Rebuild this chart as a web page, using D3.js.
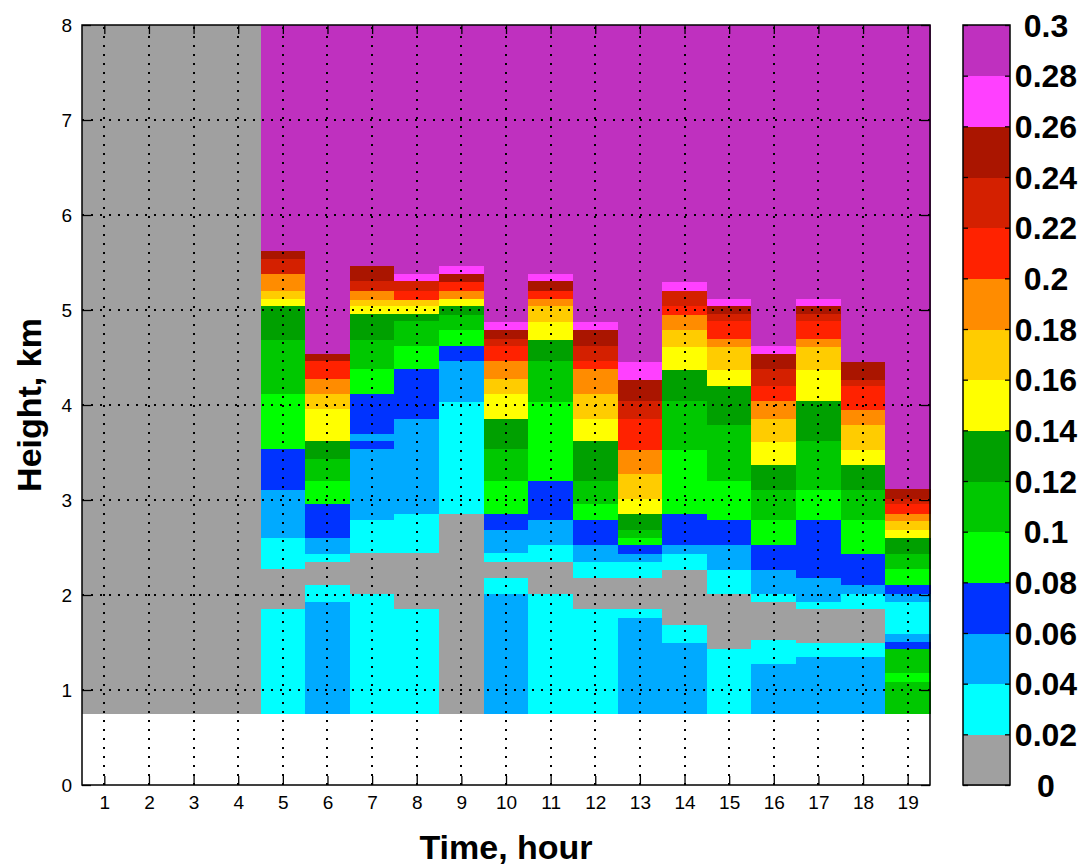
<!DOCTYPE html>
<html><head><meta charset="utf-8">
<script src="https://cdn.jsdelivr.net/npm/d3@7"></script>
<style>body{margin:0;background:#fff} svg{display:block}</style>
</head><body><svg id="c" width="1086" height="865"></svg>
<script>
// ---- data ----
const hours = [1,2,3,4,5,6,7,8,9,10,11,12,13,14,15,16,17,18,19];
const heightTicks = [0,1,2,3,4,5,6,7,8];
const levelLabels = ["0","0.02","0.04","0.06","0.08","0.1","0.12","0.14","0.16","0.18","0.2","0.22","0.24","0.26","0.28","0.3"];
const levelColors = ["#a0a0a0","#00ffff","#00aaff","#0033ff","#00ff00","#00c800","#00a000","#ffff00","#ffcc00","#ff8c00","#ff2200","#d42000","#aa1500","#ff40ff","#bf30bf"];
const dataBase = 0.75; // lowest height with data, km
// each profile: [top of layer (km), value] from bottom upward
const hour01 = [[8,0.01]];
const hour02 = [[8,0.01]];
const hour03 = [[8,0.01]];
const hour04 = [[8,0.01]];
const hour05 = [[1.86,0.03],[2.28,0.01],[2.61,0.03],[3.11,0.05],[3.54,0.07],[4.12,0.09],[4.69,0.11],[5.05,0.13],[5.12,0.15],[5.21,0.17],[5.38,0.19],[5.54,0.23],[5.63,0.25],[8,0.29]];
const hour06 = [[1.93,0.05],[2.11,0.03],[2.35,0.01],[2.44,0.03],[2.61,0.05],[2.96,0.07],[3.21,0.09],[3.44,0.11],[3.63,0.13],[3.96,0.15],[4.12,0.17],[4.28,0.19],[4.47,0.21],[4.54,0.25],[8,0.29]];
const hour07 = [[2.02,0.03],[2.45,0.01],[2.79,0.03],[3.54,0.05],[3.63,0.07],[3.70,0.05],[4.12,0.07],[4.38,0.09],[4.69,0.11],[4.96,0.13],[5.05,0.15],[5.11,0.17],[5.21,0.19],[5.31,0.23],[5.47,0.25],[8,0.29]];
const hour08 = [[1.86,0.03],[2.45,0.01],[2.86,0.03],[3.86,0.05],[4.38,0.07],[4.63,0.09],[4.89,0.11],[4.96,0.13],[5.05,0.15],[5.11,0.17],[5.21,0.21],[5.31,0.23],[5.38,0.27],[8,0.29]];
const hour09 = [[2.86,0.01],[4.04,0.03],[4.47,0.05],[4.63,0.07],[4.80,0.09],[4.95,0.11],[5.05,0.13],[5.12,0.15],[5.21,0.19],[5.30,0.21],[5.38,0.25],[5.47,0.27],[8,0.29]];
const hour10 = [[2.02,0.05],[2.18,0.03],[2.35,0.01],[2.45,0.03],[2.69,0.05],[2.86,0.07],[3.21,0.09],[3.54,0.11],[3.86,0.13],[4.12,0.15],[4.28,0.17],[4.47,0.19],[4.63,0.21],[4.70,0.23],[4.80,0.25],[4.88,0.27],[8,0.29]];
const hour11 = [[2.02,0.03],[2.35,0.01],[2.53,0.03],[2.79,0.05],[3.21,0.07],[4.04,0.09],[4.47,0.11],[4.69,0.13],[4.88,0.15],[5.05,0.17],[5.12,0.19],[5.21,0.21],[5.31,0.25],[5.38,0.27],[8,0.29]];
const hour12 = [[1.86,0.03],[2.18,0.01],[2.35,0.03],[2.53,0.05],[2.79,0.07],[2.96,0.09],[3.21,0.11],[3.63,0.13],[3.86,0.15],[4.12,0.17],[4.38,0.19],[4.47,0.21],[4.63,0.23],[4.80,0.25],[4.88,0.27],[8,0.29]];
const hour13 = [[1.76,0.05],[1.86,0.03],[2.18,0.01],[2.35,0.03],[2.44,0.05],[2.53,0.07],[2.61,0.09],[2.69,0.11],[2.86,0.13],[3.02,0.15],[3.28,0.17],[3.53,0.19],[3.86,0.21],[4.05,0.23],[4.27,0.25],[4.46,0.27],[8,0.29]];
const hour14 = [[1.50,0.05],[1.69,0.03],[2.27,0.01],[2.44,0.03],[2.53,0.05],[2.86,0.07],[3.53,0.09],[4.05,0.11],[4.37,0.13],[4.62,0.15],[4.80,0.17],[4.95,0.19],[5.05,0.21],[5.21,0.23],[5.30,0.27],[8,0.29]];
const hour15 = [[1.44,0.03],[2.02,0.01],[2.27,0.03],[2.53,0.05],[2.79,0.07],[3.21,0.09],[3.80,0.11],[4.21,0.13],[4.37,0.15],[4.62,0.17],[4.70,0.19],[4.89,0.21],[4.96,0.23],[5.05,0.25],[5.12,0.27],[8,0.29]];
const hour16 = [[1.28,0.05],[1.53,0.03],[1.93,0.01],[2.02,0.03],[2.27,0.05],[2.53,0.07],[2.79,0.09],[3.11,0.11],[3.37,0.13],[3.62,0.15],[3.86,0.17],[4.05,0.19],[4.21,0.21],[4.38,0.23],[4.54,0.25],[4.63,0.27],[8,0.29]];
const hour17 = [[1.35,0.05],[1.50,0.03],[1.86,0.01],[1.93,0.03],[2.18,0.05],[2.79,0.07],[3.11,0.09],[3.63,0.11],[4.05,0.13],[4.37,0.15],[4.62,0.17],[4.70,0.19],[4.89,0.21],[4.96,0.23],[5.05,0.25],[5.12,0.27],[8,0.29]];
const hour18 = [[1.35,0.05],[1.50,0.03],[1.86,0.01],[2.02,0.03],[2.11,0.05],[2.44,0.07],[2.79,0.09],[3.11,0.11],[3.37,0.13],[3.53,0.15],[3.79,0.17],[3.95,0.19],[4.21,0.21],[4.27,0.23],[4.46,0.25],[8,0.29]];
const hour19 = [[1.09,0.11],[1.18,0.09],[1.44,0.11],[1.51,0.07],[1.60,0.05],[1.93,0.03],[2.02,0.05],[2.11,0.07],[2.28,0.09],[2.44,0.11],[2.61,0.13],[2.69,0.15],[2.78,0.17],[2.86,0.19],[2.96,0.21],[3.02,0.23],[3.12,0.25],[8,0.29]];
const profiles = [hour01,hour02,hour03,hour04,hour05,hour06,hour07,hour08,hour09,hour10,hour11,hour12,hour13,hour14,hour15,hour16,hour17,hour18,hour19];

// ---- drawing ----
const svg = d3.select("#c");
const L = 82, R = 930, T = 25, B = 785;
const x = d3.scaleLinear().domain([0.5, 19.5]).range([L, R]);
const y = d3.scaleLinear().domain([0, 8]).range([B, T]);
const levelEdges = levelLabels.map(Number);
const color = d3.scaleThreshold().domain(levelEdges.slice(1, -1)).range(levelColors);

// cells
const cells = [];
profiles.forEach((p, i) => {
  let bottom = dataBase;
  p.forEach(([top, v]) => { cells.push({hour: hours[i], bottom, top, v}); bottom = top; });
});
svg.append("g").attr("shape-rendering", "crispEdges")
  .selectAll("rect").data(cells).join("rect")
  .attr("x", d => x(d.hour - 0.5))
  .attr("width", d => x(d.hour + 0.5) - x(d.hour - 0.5) + 0.5)
  .attr("y", d => y(d.top))
  .attr("height", d => y(d.bottom) - y(d.top) + 0.5)
  .attr("fill", d => color(d.v));

// grid (dotted)
const grid = svg.append("g").attr("stroke", "#000").attr("stroke-width", 2).attr("stroke-dasharray", "2,7");
grid.selectAll("line.v").data(hours).join("line").attr("class", "v")
  .attr("x1", d => Math.round(x(d))).attr("x2", d => Math.round(x(d)))
  .attr("y1", B).attr("y2", T);
grid.selectAll("line.h").data(heightTicks.slice(1, -1)).join("line").attr("class", "h")
  .attr("y1", d => Math.round(y(d))).attr("y2", d => Math.round(y(d)))
  .attr("x1", L).attr("x2", R);

// axes
const tickFont = "'Liberation Sans Narrow','Arial Narrow','Liberation Sans',Arial,sans-serif";
const ax = (g) => { g.select(".domain").remove(); g.selectAll(".tick line").attr("stroke", "#000").attr("stroke-width", 1.3); };
svg.append("g").attr("transform", `translate(0,${B})`)
  .call(d3.axisBottom(x).tickValues(hours).tickSize(-9).tickPadding(11).tickFormat(d3.format("d")))
  .call(ax).selectAll("text").attr("font-size", 19).attr("font-family", tickFont).attr("fill", "#000");
svg.append("g").attr("transform", `translate(0,${T})`)
  .call(d3.axisTop(x).tickValues(hours).tickSize(-9).tickFormat(""))
  .call(ax);
svg.append("g").attr("transform", `translate(${L},0)`)
  .call(d3.axisLeft(y).tickValues(heightTicks).tickSize(-9).tickPadding(10).tickFormat(d3.format("d")))
  .call(ax).selectAll("text").attr("font-size", 19).attr("font-family", tickFont).attr("fill", "#000");
svg.append("g").attr("transform", `translate(${R},0)`)
  .call(d3.axisRight(y).tickValues(heightTicks).tickSize(-9).tickFormat(""))
  .call(ax);

// frame
svg.append("rect").attr("x", L).attr("y", T).attr("width", R - L).attr("height", B - T)
  .attr("fill", "none").attr("stroke", "#000").attr("stroke-width", 1.5);

// axis titles
svg.append("text").attr("x", (L + R) / 2).attr("y", 859).attr("text-anchor", "middle")
  .attr("font-family", "'Liberation Sans',Arial,sans-serif").attr("font-weight", "bold").attr("font-size", 34)
  .text("Time, hour");
svg.append("text").attr("transform", `translate(41,${(T + B) / 2}) rotate(-90)`).attr("text-anchor", "middle")
  .attr("font-family", "'Liberation Sans',Arial,sans-serif").attr("font-weight", "bold").attr("font-size", 34)
  .text("Height, km");

// colorbar
const CL = 963, CR = 1010;
const cy = d3.scaleLinear().domain([0, 0.3]).range([B, T]);
const cb = svg.append("g");
cb.append("g").attr("shape-rendering", "crispEdges").selectAll("rect").data(levelColors).join("rect")
  .attr("x", CL).attr("width", CR - CL)
  .attr("y", (c, i) => cy(levelEdges[i + 1]))
  .attr("height", (c, i) => cy(levelEdges[i]) - cy(levelEdges[i + 1]) + 0.5)
  .attr("fill", c => c);
cb.append("g").attr("transform", `translate(${CL},0)`)
  .call(d3.axisLeft(cy).tickValues(levelEdges).tickSize(-5).tickFormat("")).call(ax);
cb.append("g").attr("transform", `translate(${CR},0)`)
  .call(d3.axisRight(cy).tickValues(levelEdges).tickSize(-5).tickFormat("")).call(ax);
cb.append("rect").attr("x", CL).attr("y", T).attr("width", CR - CL).attr("height", B - T)
  .attr("fill", "none").attr("stroke", "#000").attr("stroke-width", 1.5);
cb.selectAll("text.cl").data(levelLabels).join("text").attr("class", "cl")
  .attr("x", 1046).attr("y", (d, i) => cy(levelEdges[i])).attr("dy", "0.36em")
  .attr("text-anchor", "middle")
  .attr("font-family", "'Liberation Sans',Arial,sans-serif").attr("font-weight", "bold").attr("font-size", 32)
  .text(d => d);
</script></body></html>
